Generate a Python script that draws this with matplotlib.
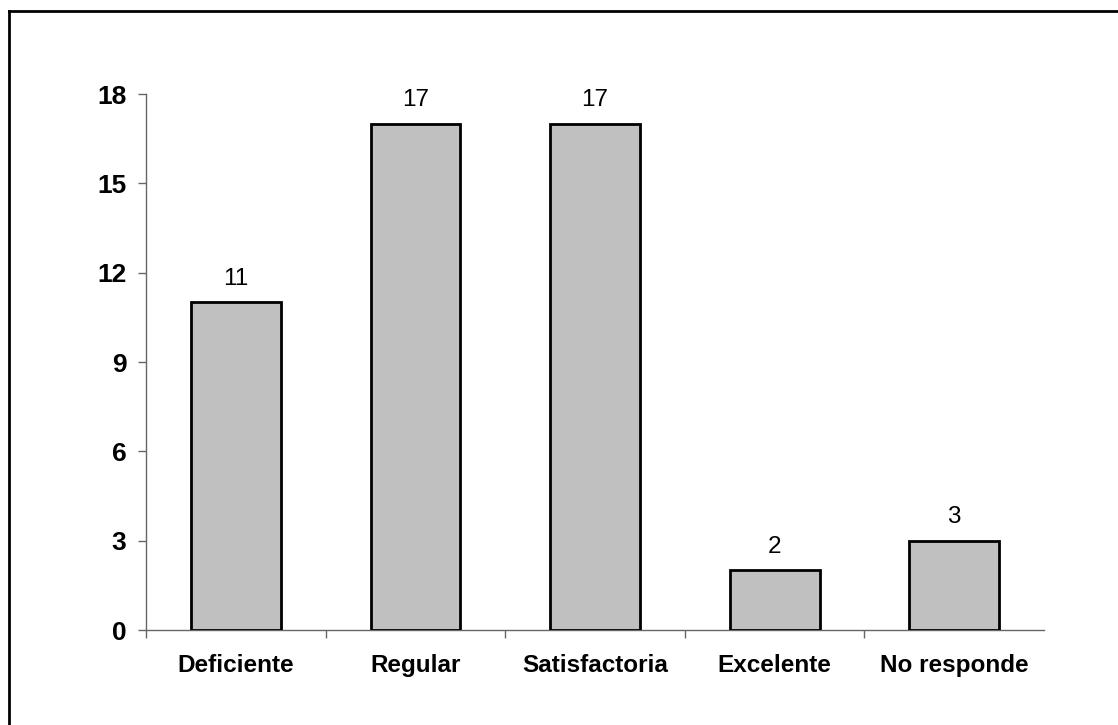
import matplotlib.pyplot as plt
from matplotlib.lines import Line2D

plt.rcParams['font.family'] = ['Liberation Sans', 'DejaVu Sans']

categorias = ["Deficiente", "Regular", "Satisfactoria", "Excelente", "No responde"]
valores = [11, 17, 17, 2, 3]
yticks = [0, 3, 6, 9, 12, 15, 18]

fig = plt.figure(figsize=(11.18, 7.25), dpi=100)
ax = fig.add_axes([146 / 1118, 1 - 630 / 725, (1044 - 146) / 1118, (630 - 94) / 725])

x = range(len(categorias))
bars = ax.bar(x, valores, width=0.5, color="#c0c0c0", edgecolor="black",
              linewidth=2, zorder=3)
for b, v in zip(bars, valores):
    ax.annotate(str(v), (b.get_x() + b.get_width() / 2, v),
                xytext=(0, 9), textcoords="offset points",
                ha="center", va="bottom", fontsize=17.5)

ax.set_xlim(-0.5, len(categorias) - 0.5)
ax.set_ylim(0, 18)
ax.set_yticks(yticks)
ax.set_xticks(list(x))
ax.set_xticklabels(categorias, fontsize=17.5, fontweight="bold")
ax.set_yticklabels([str(t) for t in yticks], fontsize=19, fontweight="bold")

# category separators as minor ticks on the x axis
ax.set_xticks([i - 0.5 for i in range(len(categorias))], minor=True)
ax.tick_params(axis="x", which="major", length=0, pad=17)
ax.tick_params(axis="x", which="minor", length=6, width=1, color="#666666",
               direction="out")
ax.tick_params(axis="y", length=6, width=1, color="#666666", pad=8)

for side in ("top", "right"):
    ax.spines[side].set_visible(False)
for side in ("left", "bottom"):
    ax.spines[side].set_color("#666666")
    ax.spines[side].set_linewidth(1)

# frame around the chart area (left and top edges)
fig.add_artist(Line2D([9 / 1118, 9 / 1118], [0, 1 - 11 / 725],
                      transform=fig.transFigure, color="black", linewidth=2))
fig.add_artist(Line2D([9 / 1118, 1], [1 - 11 / 725, 1 - 11 / 725],
                      transform=fig.transFigure, color="black", linewidth=2))

fig.savefig("out.png", dpi=100)
